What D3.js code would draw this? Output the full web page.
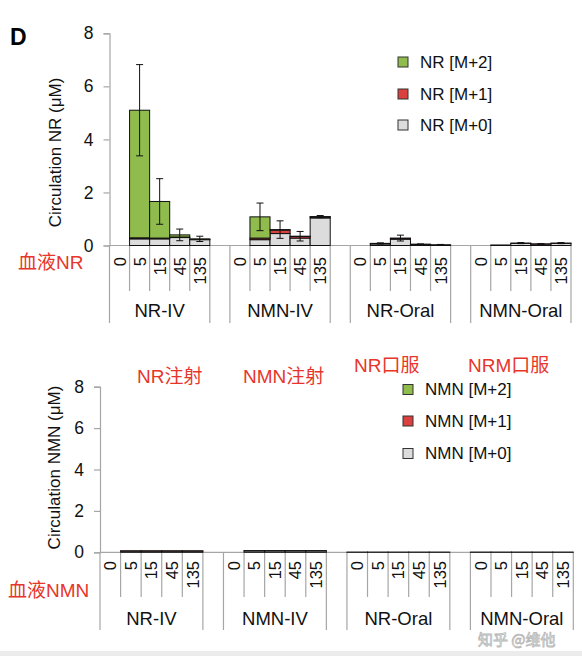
<!DOCTYPE html>
<html>
<head>
<meta charset="utf-8">
<script src="https://cdn.jsdelivr.net/npm/d3@7/dist/d3.min.js"></script>
<style>
  html, body { margin: 0; padding: 0; background: #fff; }
  svg { display: block; font-family: "Liberation Sans", Arial, "Noto Sans CJK SC", sans-serif; }
</style>
</head>
<body>
<svg id="chart" width="582" height="656"></svg>
<script>
// ---------- data ----------
const groups = ["NR-IV", "NMN-IV", "NR-Oral", "NMN-Oral"];
const times = ["0", "5", "15", "45", "135"];
const yTicks = [0, 2, 4, 6, 8];

// top panel: circulating NR (µM), 20 bars = 4 groups x 5 time points
const nrM0  = [0, 0.25, 0.25, 0.30, 0.22,   0, 0.22, 0.45, 0.28, 1.04,   0, 0.06, 0.24, 0.04, 0.03,   0, 0.02, 0.08, 0.05, 0.08];
const nrM1  = [0, 0.04, 0.03, 0.02, 0.01,   0, 0.06, 0.13, 0.06, 0.04,   0, 0.01, 0.02, 0.01, 0.00,   0, 0.00, 0.01, 0.01, 0.01];
const nrM2  = [0, 4.81, 1.38, 0.08, 0.02,   0, 0.80, 0.02, 0.01, 0.01,   0, 0.01, 0.02, 0.00, 0.00,   0, 0.00, 0.00, 0.00, 0.00];
const nrErr = [0, 1.72, 0.86, 0.22, 0.10,   0, 0.52, 0.33, 0.18, 0.04,   0, 0.02, 0.11, 0.01, 0.01,   0, 0.00, 0.02, 0.01, 0.02];

// bottom panel: circulating NMN (µM)
const nmnM0  = [0, 0.06, 0.06, 0.06, 0.06,   0, 0.07, 0.07, 0.07, 0.07,   0.01, 0.01, 0.01, 0.01, 0.01,   0.01, 0.01, 0.01, 0.01, 0.01];
const nmnM1  = [0, 0.01, 0.01, 0.01, 0.01,   0, 0.01, 0.01, 0.01, 0.01,   0, 0, 0, 0, 0,   0, 0, 0, 0, 0];
const nmnM2  = [0, 0, 0, 0, 0,   0, 0, 0, 0, 0,   0, 0, 0, 0, 0,   0, 0, 0, 0, 0];
const nmnErr = [0, 0, 0, 0, 0,   0, 0, 0, 0, 0,   0, 0, 0, 0, 0,   0, 0, 0, 0, 0];

const nrLegend  = ["NR [M+2]", "NR [M+1]", "NR [M+0]"];
const nmnLegend = ["NMN [M+2]", "NMN [M+1]", "NMN [M+0]"];
const seriesColors = ["#8fbc4c", "#d9403e", "#dcdcdc"]; // M+2, M+1, M+0

const RED = "#e8352b";
const AXIS = "#a6a6a6";

const svg = d3.select("#chart");

// bottom grey strip of the screenshot
svg.append("rect").attr("x", 0).attr("y", 651).attr("width", 582).attr("height", 5).attr("fill", "#ececec");

function panel(cfg) {
  const g = svg.append("g");
  // slots: 5 per group + 1 gap between groups => 23 slots
  const slots = [];
  groups.forEach((gr, gi) => {
    times.forEach(t => slots.push(gr + "|" + t));
    if (gi < groups.length - 1) slots.push("gap" + gi);
  });
  const x = d3.scaleBand().domain(slots).range([cfg.x0, cfg.x1]).padding(0);
  const y = d3.scaleLinear().domain([0, 8]).range([cfg.yb, cfg.yt]);

  // bars data
  const bars = [];
  groups.forEach((gr, gi) => times.forEach((t, ti) => {
    const i = gi * times.length + ti;
    bars.push({ key: gr + "|" + t, m0: cfg.m0[i], m1: cfg.m1[i], m2: cfg.m2[i], err: cfg.err[i] });
  }));
  const stack = d3.stack().keys(["m0", "m1", "m2"])(bars);
  const colorByKey = { m0: seriesColors[2], m1: seriesColors[1], m2: seriesColors[0] };

  // baseline
  g.append("line").attr("x1", cfg.x0).attr("x2", cfg.x1)
    .attr("y1", y(0)).attr("y2", y(0)).attr("stroke", AXIS).attr("stroke-width", 1.2);

  // category separator lines
  groups.forEach((gr, gi) => {
    times.forEach((t, ti) => {
      const xx = x(gr + "|" + t);
      g.append("line").attr("x1", xx).attr("x2", xx)
        .attr("y1", y(0)).attr("y2", ti === 0 ? cfg.outerBottom : cfg.innerBottom)
        .attr("stroke", AXIS).attr("stroke-width", 1.2);
    });
    const xe = x(gr + "|" + times[times.length - 1]) + x.bandwidth();
    g.append("line").attr("x1", xe).attr("x2", xe)
      .attr("y1", y(0)).attr("y2", cfg.outerBottom).attr("stroke", AXIS).attr("stroke-width", 1.2);
    // group label
    const xc = (x(gr + "|" + times[0]) + xe) / 2;
    g.append("text").attr("x", xc).attr("y", cfg.groupLabelY)
      .attr("text-anchor", "middle").attr("dominant-baseline", "middle")
      .attr("font-size", 18.5).attr("fill", "#111").text(gr);
    // time labels
    times.forEach(t => {
      const cx = x(gr + "|" + t) + x.bandwidth() / 2;
      g.append("text")
        .attr("transform", `translate(${cx},${cfg.timeLabelY}) rotate(-90)`)
        .attr("text-anchor", "end").attr("dominant-baseline", "central")
        .attr("font-size", 16.5).attr("fill", "#111").text(t);
    });
  });

  // stacked bars
  stack.forEach(layer => {
    g.append("g").selectAll("rect").data(layer.filter(d => d[1] - d[0] > 0)).join("rect")
      .attr("x", d => x(d.data.key))
      .attr("width", x.bandwidth())
      .attr("y", d => y(d[1]))
      .attr("height", d => y(d[0]) - y(d[1]))
      .attr("fill", colorByKey[layer.key])
      .attr("stroke", "#111").attr("stroke-width", 1);
  });

  // error bars
  const eb = g.append("g").attr("stroke", "#111").attr("stroke-width", 1);
  bars.filter(d => d.err > 0).forEach(d => {
    const tot = d.m0 + d.m1 + d.m2;
    const cx = x(d.key) + x.bandwidth() / 2;
    eb.append("line").attr("x1", cx).attr("x2", cx).attr("y1", y(tot - d.err)).attr("y2", y(tot + d.err));
    [tot - d.err, tot + d.err].forEach(v => {
      eb.append("line").attr("x1", cx - 3.5).attr("x2", cx + 3.5).attr("y1", y(v)).attr("y2", y(v));
    });
  });

  // y axis
  const ax = g.append("g").attr("transform", `translate(${cfg.x0},0)`)
    .call(d3.axisLeft(y).tickValues(yTicks).tickFormat(d3.format("d")).tickSize(6).tickPadding(10));
  ax.select(".domain").attr("stroke", AXIS).attr("stroke-width", 1.2);
  ax.selectAll(".tick line").attr("stroke", AXIS).attr("stroke-width", 1.2);
  ax.selectAll(".tick text").attr("font-size", 17.5).attr("fill", "#111")
    .attr("font-family", "Liberation Sans, Arial, sans-serif");

  // y title
  g.append("text")
    .attr("transform", `translate(${cfg.titleX},${(cfg.yb + cfg.yt) / 2 + cfg.titleDy}) rotate(-90)`)
    .attr("text-anchor", "middle").attr("dominant-baseline", "central")
    .attr("font-size", 17).attr("fill", "#111").text(cfg.title);

  // legend
  const lg = g.append("g");
  cfg.legend.forEach((name, i) => {
    const cy = cfg.legY[i];
    lg.append("rect").attr("x", cfg.legX).attr("y", cy - 5).attr("width", 10).attr("height", 10)
      .attr("fill", seriesColors[i]).attr("stroke", "#333").attr("stroke-width", 1);
    lg.append("text").attr("x", cfg.legX + 22).attr("y", cy)
      .attr("dominant-baseline", "central").attr("font-size", 17).attr("fill", "#111").text(name);
  });
}

panel({
  x0: 109.5, x1: 571, yb: 245.5, yt: 33.3,
  m0: nrM0, m1: nrM1, m2: nrM2, err: nrErr,
  innerBottom: 291, outerBottom: 323, groupLabelY: 312, timeLabelY: 257,
  title: "Circulation NR (μM)", titleX: 55, titleDy: 13,
  legend: nrLegend, legX: 398, legY: [62, 94, 125]
});

panel({
  x0: 100, x1: 573.3, yb: 552.3, yt: 386.7,
  m0: nmnM0, m1: nmnM1, m2: nmnM2, err: nmnErr,
  innerBottom: 597, outerBottom: 630, groupLabelY: 620, timeLabelY: 561,
  title: "Circulation NMN (μM)", titleX: 54.5, titleDy: -2,
  legend: nmnLegend, legX: 403, legY: [389.5, 421, 453.5]
});

// panel letter
svg.append("text").attr("x", 10).attr("y", 45).attr("font-size", 23).attr("font-weight", "bold")
  .attr("fill", "#000").text("D");

// red Chinese annotations
const notes = [
  { t: "血液NR", x: 18, y: 262 },
  { t: "血液NMN", x: 8, y: 590 },
  { t: "NR注射", x: 137, y: 376 },
  { t: "NMN注射", x: 243, y: 376 },
  { t: "NR口服", x: 354, y: 365 },
  { t: "NRM口服", x: 468, y: 365 }
];
svg.append("g").selectAll("text").data(notes).join("text")
  .attr("x", d => d.x).attr("y", d => d.y)
  .attr("dominant-baseline", "central")
  .attr("font-family", "'Liberation Sans', Arial, 'Noto Sans CJK SC', sans-serif")
  .attr("font-size", 19).attr("fill", RED).text(d => d.t);

// watermark
svg.append("text").attr("x", 478).attr("y", 638).attr("dominant-baseline", "central")
  .attr("font-family", "'Noto Sans CJK SC', sans-serif").attr("font-size", 15)
  .attr("fill", "#ffffff").attr("fill-opacity", 0.85)
  .attr("stroke", "#b8b8b8").attr("stroke-width", 0.8).text("知乎 @维他");
</script>
</body>
</html>
